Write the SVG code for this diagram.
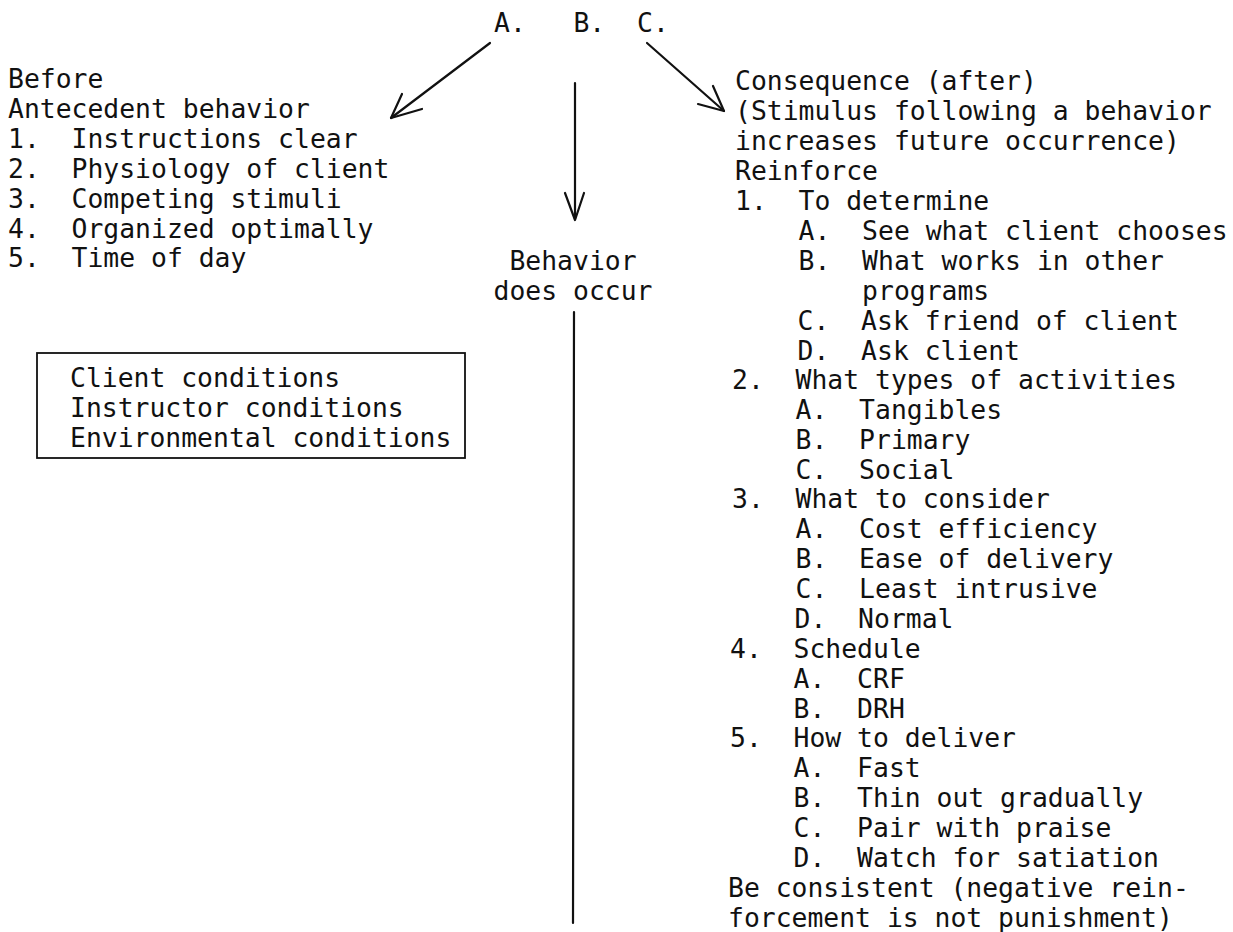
<svg xmlns="http://www.w3.org/2000/svg" width="1233" height="932" viewBox="0 0 1233 932">
<style>
text{font-family:"DejaVu Sans Mono","Liberation Mono",monospace;font-size:26.4px;fill:#111;white-space:pre}
.ln{stroke:#111;stroke-width:2.2;fill:none;stroke-linecap:round;stroke-linejoin:round}
.box{stroke:#111;stroke-width:1.8;fill:none}
</style>
<rect width="1233" height="932" fill="#fff"/>
<g id="abc"><text x="494" y="32" xml:space="preserve">A.   B.  C.</text></g>
<g id="connectors">
<line class="ln" x1="490" y1="43" x2="391" y2="118"/>
<polyline class="ln" points="402,94 391,118 422,109"/>
<line class="ln" x1="647" y1="43" x2="724" y2="111"/>
<polyline class="ln" points="713,86 724,111 698,104"/>
<line class="ln" x1="575" y1="83" x2="575" y2="219"/>
<polyline class="ln" points="565,193 575,220 584,193"/>
<line class="ln" x1="574" y1="312" x2="573" y2="923"/>
</g>
<g id="antecedent">
<text x="8" y="88">Before</text>
<text x="8" y="118">Antecedent behavior</text>
<text x="8" y="148" xml:space="preserve">1.  Instructions clear</text>
<text x="8" y="178" xml:space="preserve">2.  Physiology of client</text>
<text x="8" y="208" xml:space="preserve">3.  Competing stimuli</text>
<text x="8" y="238" xml:space="preserve">4.  Organized optimally</text>
<text x="8" y="267" xml:space="preserve">5.  Time of day</text>
</g>
<g id="conditions">
<rect class="box" x="37" y="353" width="428" height="105"/>
<text x="70" y="387">Client conditions</text>
<text x="70" y="417">Instructor conditions</text>
<text x="70" y="447">Environmental conditions</text>
</g>
<g id="behavior">
<text x="573" y="270" text-anchor="middle">Behavior</text>
<text x="573" y="300" text-anchor="middle">does occur</text>
</g>
<g id="consequence">
<text x="735" y="90">Consequence (after)</text>
<text x="735" y="120">(Stimulus following a behavior</text>
<text x="735" y="150">increases future occurrence)</text>
<text x="735" y="180">Reinforce</text>
<text x="735" y="210" xml:space="preserve">1.  To determine</text>
<text x="735" y="240" xml:space="preserve">    A.  See what client chooses</text>
<text x="735" y="270" xml:space="preserve">    B.  What works in other</text>
<text x="735" y="300" xml:space="preserve">        programs</text>
<text x="734" y="330" xml:space="preserve">    C.  Ask friend of client</text>
<text x="734" y="360" xml:space="preserve">    D.  Ask client</text>
<text x="732" y="389" xml:space="preserve">2.  What types of activities</text>
<text x="732" y="419" xml:space="preserve">    A.  Tangibles</text>
<text x="732" y="449" xml:space="preserve">    B.  Primary</text>
<text x="732" y="479" xml:space="preserve">    C.  Social</text>
<text x="732" y="508" xml:space="preserve">3.  What to consider</text>
<text x="732" y="538" xml:space="preserve">    A.  Cost efficiency</text>
<text x="732" y="568" xml:space="preserve">    B.  Ease of delivery</text>
<text x="732" y="598" xml:space="preserve">    C.  Least intrusive</text>
<text x="731" y="628" xml:space="preserve">    D.  Normal</text>
<text x="730" y="658" xml:space="preserve">4.  Schedule</text>
<text x="730" y="688" xml:space="preserve">    A.  CRF</text>
<text x="730" y="718" xml:space="preserve">    B.  DRH</text>
<text x="730" y="747" xml:space="preserve">5.  How to deliver</text>
<text x="730" y="777" xml:space="preserve">    A.  Fast</text>
<text x="730" y="807" xml:space="preserve">    B.  Thin out gradually</text>
<text x="730" y="837" xml:space="preserve">    C.  Pair with praise</text>
<text x="730" y="867" xml:space="preserve">    D.  Watch for satiation</text>
<text x="728" y="897">Be consistent (negative rein-</text>
<text x="728" y="927">forcement is not punishment)</text>
</g>
</svg>
